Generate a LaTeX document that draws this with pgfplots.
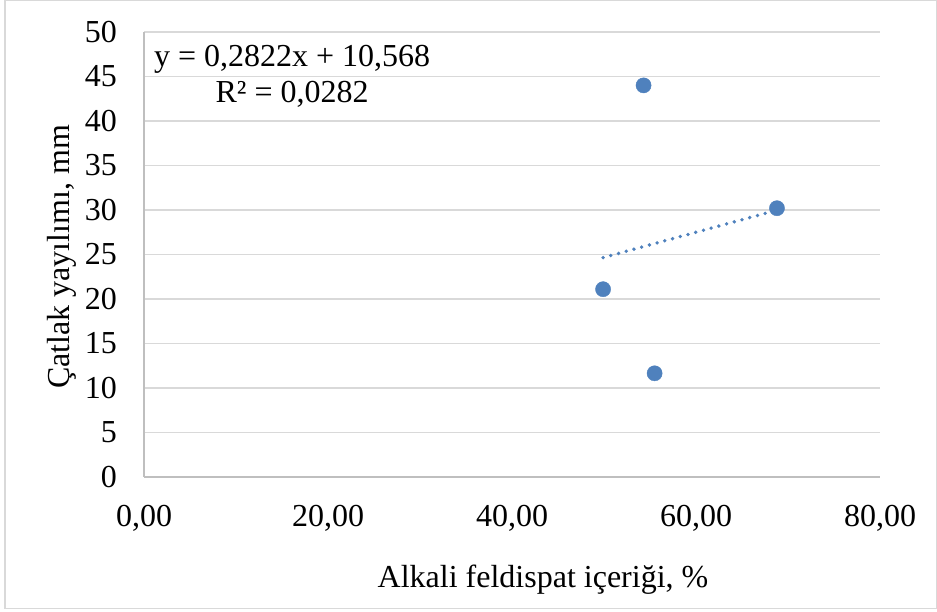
\documentclass[border=0pt]{standalone}
\usepackage{fontspec}
\setmainfont{Liberation Serif}
\usepackage{pgfplots}
\pgfplotsset{compat=1.18}
\definecolor{ptblue}{HTML}{4F81BD}
\definecolor{gridgray}{HTML}{D9D9D9}
\definecolor{axgray}{HTML}{BFBFBF}
\begin{document}
\begin{tikzpicture}[x=1pt,y=1pt,font=\fontsize{32}{38}\selectfont]
\useasboundingbox (0,0) rectangle (937,612);
\draw[gridgray, line width=1.2pt] (5,3.5) rectangle (936.5,611.5);
\begin{axis}[
  at={(144pt,135pt)}, anchor=south west,
  width=736pt, height=445pt, scale only axis,
  xmin=0, xmax=80, ymin=0, ymax=50,
  xtick={0,20,40,60,80},
  ytick={0,5,...,50},
  axis x line*=bottom, axis y line*=left,
  axis line style={axgray, line width=1.2pt, -},
  major tick length=0pt,
  ymajorgrids, grid style={gridgray, line width=1.2pt},
  xticklabel style={/pgf/number format/fixed, /pgf/number format/fixed zerofill, /pgf/number format/precision=2, /pgf/number format/use comma, /pgf/number format/assume math mode=true},
  yticklabel style={/pgf/number format/assume math mode=true},
  every x tick label/.append style={inner sep=0pt, anchor=north, yshift=-28pt},
  every y tick label/.append style={inner sep=0pt, anchor=east, xshift=-27pt},
  clip=false,
]
\addplot[only marks, mark=*, mark size=7.6pt, ptblue, mark options={draw=ptblue, fill=ptblue}]
  coordinates {(49.9,21.1) (54.3,44.0) (55.5,11.65) (68.8,30.2)};
\addplot[ptblue, line width=3.8pt, line cap=round, dash pattern=on 0pt off 8pt]
  coordinates {(49.9,24.65) (68.8,29.98)};
\node[anchor=base, inner sep=0pt] at (axis cs:16.1,46.1) {y = 0,2822x + 10,568};
\node[anchor=base, inner sep=0pt] at (axis cs:16.1,42.06) {R² = 0,0282};
\end{axis}
\node[rotate=90, inner sep=0pt] at (62,355) {Çatlak yayılımı, mm};
\node[anchor=base, inner sep=0pt] at (543,24) {Alkali feldispat içeriği, \%};
\end{tikzpicture}
\end{document}
